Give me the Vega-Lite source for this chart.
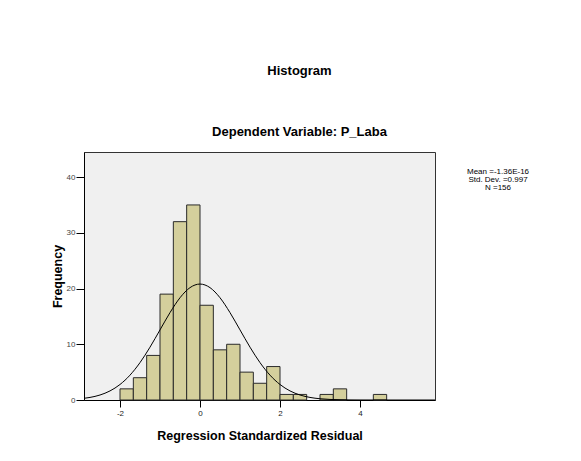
{
  "$schema": "https://vega.github.io/schema/vega-lite/v6.json",
  "autosize": {"type": "none"},
  "width": 351,
  "height": 248,
  "padding": {"left": 84, "top": 152, "right": 146, "bottom": 61},
  "background": "#ffffff",
  "config": {
    "font": "Liberation Sans",
    "view": {"fill": "#f0f0f0", "stroke": "#333333", "strokeWidth": 1}
  },
  "title": {
    "text": "Histogram",
    "subtitle": "Dependent Variable: P_Laba",
    "anchor": "middle",
    "dx": 40,
    "offset": 13,
    "fontSize": 13,
    "fontWeight": "bold",
    "color": "#000000",
    "subtitleFontSize": 13,
    "subtitleFontWeight": "bold",
    "subtitleColor": "#000000",
    "subtitlePadding": 48
  },
  "datasets": {
    "bins": [
      {"bin_start": -2.0, "bin_end": -1.6667, "count": 2},
      {"bin_start": -1.6667, "bin_end": -1.3333, "count": 4},
      {"bin_start": -1.3333, "bin_end": -1.0, "count": 8},
      {"bin_start": -1.0, "bin_end": -0.6667, "count": 19},
      {"bin_start": -0.6667, "bin_end": -0.3333, "count": 32},
      {"bin_start": -0.3333, "bin_end": 0.0, "count": 35},
      {"bin_start": 0.0, "bin_end": 0.3333, "count": 17},
      {"bin_start": 0.3333, "bin_end": 0.6667, "count": 9},
      {"bin_start": 0.6667, "bin_end": 1.0, "count": 10},
      {"bin_start": 1.0, "bin_end": 1.3333, "count": 5},
      {"bin_start": 1.3333, "bin_end": 1.6667, "count": 3},
      {"bin_start": 1.6667, "bin_end": 2.0, "count": 6},
      {"bin_start": 2.0, "bin_end": 2.3333, "count": 1},
      {"bin_start": 2.3333, "bin_end": 2.6667, "count": 1},
      {"bin_start": 3.0, "bin_end": 3.3333, "count": 1},
      {"bin_start": 3.3333, "bin_end": 3.6667, "count": 2},
      {"bin_start": 4.3333, "bin_end": 4.6667, "count": 1}
    ],
    "curve": [
      {"x": -2.9, "y": 0.303},
      {"x": -2.75, "y": 0.464},
      {"x": -2.5, "y": 0.897},
      {"x": -2.25, "y": 1.631},
      {"x": -2.0, "y": 2.782},
      {"x": -1.75, "y": 4.458},
      {"x": -1.5, "y": 6.709},
      {"x": -1.25, "y": 9.481},
      {"x": -1.0, "y": 12.581},
      {"x": -0.75, "y": 15.679},
      {"x": -0.5, "y": 18.348},
      {"x": -0.25, "y": 20.163},
      {"x": 0.0, "y": 20.807},
      {"x": 0.25, "y": 20.163},
      {"x": 0.5, "y": 18.348},
      {"x": 0.75, "y": 15.679},
      {"x": 1.0, "y": 12.581},
      {"x": 1.25, "y": 9.481},
      {"x": 1.5, "y": 6.709},
      {"x": 1.75, "y": 4.458},
      {"x": 2.0, "y": 2.782},
      {"x": 2.25, "y": 1.631},
      {"x": 2.5, "y": 0.897},
      {"x": 2.75, "y": 0.464},
      {"x": 3.0, "y": 0.225},
      {"x": 3.25, "y": 0.103},
      {"x": 3.5, "y": 0.044},
      {"x": 3.75, "y": 0.018},
      {"x": 4.0, "y": 0.007},
      {"x": 4.5, "y": 0.001},
      {"x": 5.0, "y": 0.0},
      {"x": 5.875, "y": 0.0}
    ],
    "stats": [
      {"x": 7.45, "y": 41.7, "label": "Mean =-1.36E-16\nStd. Dev. =0.997\nN =156"}
    ]
  },
  "layer": [
    {
      "data": {"name": "bins"},
      "mark": {"type": "bar", "fill": "#d4cf9c", "stroke": "#2a2a2a", "strokeWidth": 1},
      "encoding": {
        "x": {
          "field": "bin_start", "type": "quantitative",
          "scale": {"domain": [-2.9, 5.875], "nice": false, "zero": false},
          "axis": {
            "values": [-2, 0, 2, 4],
            "labelExpr": "replace(datum.label, '\u2212', '-')",
            "title": "Regression Standardized Residual",
            "titleFontSize": 12.5, "titleFontWeight": "bold", "titleColor": "#000000",
            "titlePadding": 12,
            "labelFontSize": 8, "labelColor": "#222222",
            "tickSize": 7, "tickColor": "#000000", "domainColor": "#000000",
            "labelPadding": 2, "grid": false
          }
        },
        "x2": {"field": "bin_end"},
        "y": {
          "field": "count", "type": "quantitative",
          "scale": {"domain": [0, 44.5], "nice": false},
          "axis": {
            "values": [0, 10, 20, 30, 40],
            "title": "Frequency",
            "titleFontSize": 12.5, "titleFontWeight": "bold", "titleColor": "#000000",
            "titlePadding": 2,
            "labelFontSize": 8, "labelColor": "#444444",
            "tickSize": 8, "tickColor": "#000000", "domainColor": "#000000",
            "labelPadding": 1, "grid": false
          }
        },
        "y2": {"datum": 0}
      }
    },
    {
      "data": {"name": "curve"},
      "mark": {"type": "line", "color": "#000000", "strokeWidth": 1, "interpolate": "monotone", "clip": true},
      "encoding": {
        "x": {"field": "x", "type": "quantitative"},
        "y": {"field": "y", "type": "quantitative"}
      }
    },
    {
      "data": {"name": "stats"},
      "mark": {"type": "text", "align": "center", "baseline": "top", "fontSize": 8, "lineHeight": 8.4, "lineBreak": "\n", "color": "#000000"},
      "encoding": {
        "x": {"field": "x", "type": "quantitative"},
        "y": {"field": "y", "type": "quantitative"},
        "text": {"field": "label"}
      }
    }
  ]
}
